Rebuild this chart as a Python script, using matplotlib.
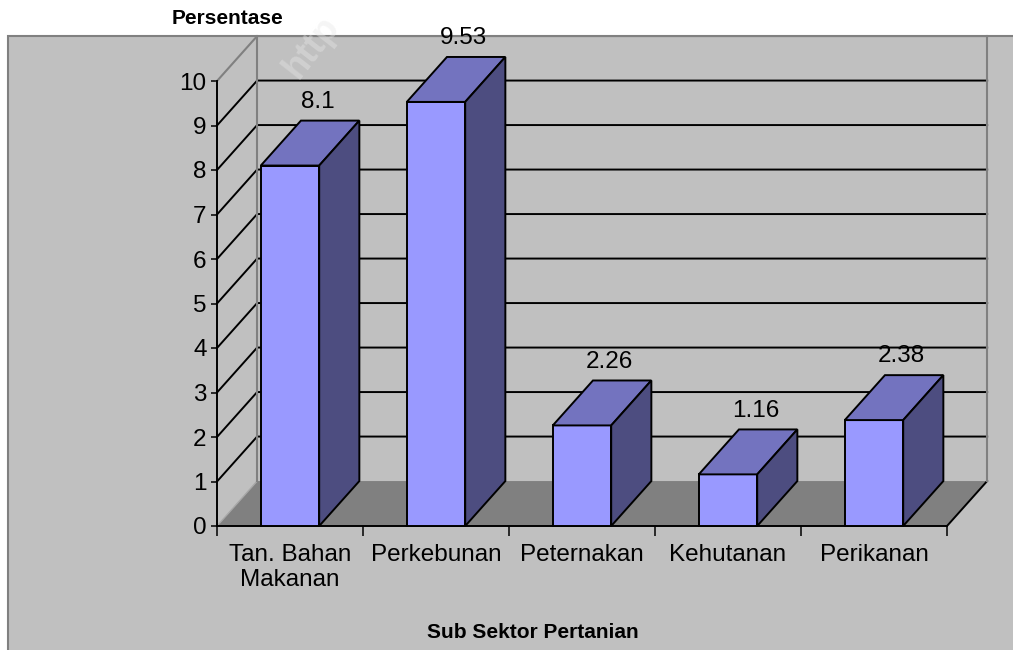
import numpy as np
import matplotlib
matplotlib.use('Agg')
import matplotlib.pyplot as plt
from matplotlib.patches import Polygon, Rectangle

categories   = ['Tan. Bahan\nMakanan', 'Perkebunan', 'Peternakan', 'Kehutanan', 'Perikanan']
values       = [8.1, 9.53, 2.26, 1.16, 2.38]
value_labels = ['8.1', '9.53', '2.26', '1.16', '2.38']
y_ticks      = list(range(0, 11))

W, H = 1013, 650
plt.rcParams['font.family'] = ['Liberation Sans', 'DejaVu Sans']

# colours of the old excel 3d column chart
face_col  = '#9999ff'
top_col   = '#7373bf'
side_col  = '#4d4d80'
wall_col  = '#c0c0c0'
floor_col = '#808080'
edge_gray = '#808080'
lw        = 1.4
fs        = 17.5

fig = plt.figure(figsize=(W / 100, H / 100), dpi=100)
fig.patch.set_facecolor('white')
fig.patches.append(Rectangle((8 / W, -0.01), 1.1, (H - 36) / H + 0.01, transform=fig.transFigure,
                             facecolor=wall_col, edgecolor=edge_gray, lw=1.5, zorder=-10))

ax = fig.add_axes([217 / W, (H - 526) / H, (947 - 217) / W, (526 - 81) / H])
n = len(categories)
x0, x1 = -0.5, n - 0.5
ymax = y_ticks[-1]
ax.set_xlim(x0, x1)
ax.set_ylim(0, ymax)
ax.patch.set_visible(False)

dx, dy = 0.275, 1.01   # depth of the 3d box, in data units
bw = 0.40              # bar width

# floor
ax.add_patch(Polygon([(x0, 0), (x1, 0), (x1 + dx, dy), (x0 + dx, dy)], closed=True,
                     facecolor=floor_col, edgecolor='none', zorder=1, clip_on=False))
ax.plot([x1, x1 + dx], [0, dy], color='black', lw=lw, clip_on=False, zorder=1.5)
ax.plot([x0, x0 + dx], [0, dy], color='#a8a8a8', lw=1.0, clip_on=False, zorder=1.5)

# walls: gridlines on side wall + back wall
for v in y_ticks[1:-1]:
    ax.plot([x0, x0 + dx, x1 + dx], [v, v + dy, v + dy], color='black', lw=lw,
            clip_on=False, zorder=2, solid_joinstyle='miter')
ax.plot([x0, x0 + dx, x1 + dx], [ymax, ymax + dy, ymax + dy], color=edge_gray, lw=1.5,
        clip_on=False, zorder=2)
for xx in [x0 + dx, x1 + dx]:
    ax.plot([xx, xx], [dy, ymax + dy], color=edge_gray, lw=1.5, clip_on=False, zorder=2)

# bars
for i, v in enumerate(values):
    xl, xr = i - bw / 2, i + bw / 2
    kw = dict(closed=True, edgecolor='black', lw=lw, joinstyle='miter', clip_on=False, zorder=3 + i)
    ax.add_patch(Polygon([(xl, 0), (xr, 0), (xr, v), (xl, v)], facecolor=face_col, **kw))
    ax.add_patch(Polygon([(xl, v), (xr, v), (xr + dx, v + dy), (xl + dx, v + dy)], facecolor=top_col, **kw))
    ax.add_patch(Polygon([(xr, 0), (xr + dx, dy), (xr + dx, v + dy), (xr, v)], facecolor=side_col, **kw))
    ax.text(i + 0.19, v + dy + 0.42, value_labels[i], ha='center', va='center', fontsize=fs,
            color='black', zorder=10)

# axes
ax.set_yticks(y_ticks)
ax.tick_params(axis='y', direction='out', length=4.5, width=1.1, pad=3, labelsize=fs)
ax.set_xticks(np.arange(n + 1) - 0.5)
ax.set_xticklabels([])
ax.set_xticks(np.arange(n), minor=True)
ax.set_xticklabels(categories, minor=True, fontsize=fs)
ax.tick_params(axis='x', which='major', direction='out', length=7, width=1.1)
ax.tick_params(axis='x', which='minor', length=0, pad=13)
for s in ['top', 'right']:
    ax.spines[s].set_visible(False)
for s in ['left', 'bottom']:
    ax.spines[s].set_linewidth(lw)
    ax.spines[s].set_color('black')

fig.text(172 / W, 1 - 19 / H, 'Persentase', fontsize=15, fontweight='bold', ha='left', va='center')
fig.text(533 / W, 1 - 633 / H, 'Sub Sektor Pertanian', fontsize=15, fontweight='bold',
         ha='center', va='center')

# faint watermark
fig.text(298 / W, 1 - 80 / H, 'http', fontsize=26, fontweight='bold', rotation=52,
         rotation_mode='anchor', ha='left', va='baseline', color='#e8e8e8', alpha=0.4, zorder=20)

fig.savefig('out.png', dpi=100)
